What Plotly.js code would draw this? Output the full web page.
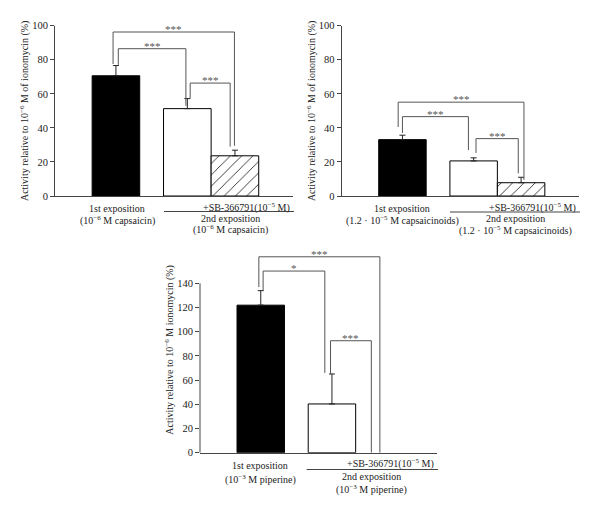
<!DOCTYPE html>
<html><head><meta charset="utf-8">
<script src="https://cdn.plot.ly/plotly-3.0.1.min.js"></script>
<style>html,body{margin:0;padding:0;background:#fff}#chart{width:600px;height:516px}</style>
</head><body><div id="chart"></div>
<script>
// ---- data ----
const groups = ['1st exposition', '2nd exposition', '2nd exposition + SB-366791'];
const capsaicinMean = [70.6, 51.3, 23.6];
const capsaicinErr = [6.0, 5.9, 3.3];
const capsaicinoidsMean = [33.1, 20.6, 7.8];
const capsaicinoidsErr = [2.6, 1.8, 3.2];
const piperineMean = [122, 40.3, 0];
const piperineErr = [12, 24.8, 0];
const capsaicinSig = ['***', '***', '***'];      // outer, 1st-2nd, 2nd-SB
const capsaicinoidsSig = ['***', '***', '***'];
const piperineSig = ['***', '*', '***'];
const yTicksTop = [0, 20, 40, 60, 80, 100];
const yTicksBottom = [0, 20, 40, 60, 80, 100, 120, 140];

// ---- layout helpers ----
const W = 600, H = 516;
const px = x => x / W, py = y => 1 - y / H;
const SERIF = 'Liberation Serif, Times New Roman, serif';
const barPos = [1.28, 2.78, 3.78];
const fills = ['#000000', '#ffffff', '#ffffff'];
const patterns = ['', '', '/'];

function barTraces(mean, err, xa, ya) {
  const out = [];
  mean.forEach((v, i) => {
    if (!v) return;               // no bar drawn for a zero value
    out.push({
      type: 'bar', x: [barPos[i]], y: [v], width: 1, xaxis: xa, yaxis: ya,
      name: groups[i], hoverinfo: 'name+y',
      marker: {color: fills[i], line: {color: '#000', width: 1},
        pattern: patterns[i] ? {shape: patterns[i], fgcolor: '#111', bgcolor: '#fff', size: 8, solidity: 0.1, fillmode: 'replace'} : undefined},
      error_y: {type: 'data', symmetric: false, array: [err[i]], arrayminus: [0],
        color: '#222', thickness: 1, width: 3},
      showlegend: false
    });
  });
  return out;
}

const data = [].concat(
  barTraces(capsaicinMean, capsaicinErr, 'x', 'y'),
  barTraces(capsaicinoidsMean, capsaicinoidsErr, 'x2', 'y2'),
  barTraces(piperineMean, piperineErr, 'x3', 'y3')
);

const shapes = [], annotations = [];
function bracket(xa, ya, x1, y1, x2, y2, top, label) {
  shapes.push({type: 'path', xref: xa, yref: ya,
    path: `M ${x1},${y1} L ${x1},${top} L ${x2},${top} L ${x2},${y2}`,
    line: {color: '#555', width: 1}});
  annotations.push({xref: xa, yref: ya, x: (x1 + x2) / 2, y: top, text: label,
    showarrow: false, yanchor: 'bottom', yshift: -5,
    font: {family: SERIF, size: 11, color: '#555'}});
}
// panel 1 brackets
bracket('x', 'y', 1.22, 77.5, 3.77, 29.5, 96.3, capsaicinSig[0]);
bracket('x', 'y', 1.33, 77, 2.75, 53, 86.5, capsaicinSig[1]);
bracket('x', 'y', 2.84, 57.5, 3.68, 29, 66.3, capsaicinSig[2]);
// panel 2 brackets
bracket('x2', 'y2', 1.19, 40.5, 3.84, 9.5, 55.1, capsaicinoidsSig[0]);
bracket('x2', 'y2', 1.28, 37, 2.67, 27, 46.6, capsaicinoidsSig[1]);
bracket('x2', 'y2', 2.83, 25.3, 3.72, 13.3, 33.7, capsaicinoidsSig[2]);
// panel 3 brackets
bracket('x3', 'y3', 1.24, 137, 3.79, 0, 162, piperineSig[0]);
bracket('x3', 'y3', 1.33, 134.5, 2.63, 66, 150.2, piperineSig[1]);
bracket('x3', 'y3', 2.75, 65, 3.61, 0, 92.6, piperineSig[2]);

// panel-3 y axis line (stops at 140)
shapes.push({type: 'line', xref: 'paper', yref: 'y3', x0: px(200), x1: px(200), y0: 0, y1: 140,
  line: {color: '#444', width: 1}});

function label(x, y, text, anchor) {
  annotations.push({xref: 'paper', yref: 'paper', x: px(x), y: py(y), text: text,
    showarrow: false, xanchor: anchor || 'center', yanchor: 'middle',
    font: {family: SERIF, size: 10, color: '#222'}});
}
function xLabels(c1, cond, right, c2, ySB, yLine, lineX0, y1, y2, y3, y4) {
  label(c1, y1, '1st exposition');
  label(c1, y2, cond);
  label(right, ySB, '+SB-366791(10<sup>−5</sup> M)', 'right');
  shapes.push({type: 'line', xref: 'paper', yref: 'paper', x0: px(lineX0), x1: px(right + 2),
    y0: py(yLine), y1: py(yLine), line: {color: '#444', width: 1}});
  label(c2, y3, '2nd exposition');
  label(c2, y4, cond);
}
xLabels(117, '(10<sup>−6</sup> M capsaicin)', 292, 230, 207, 211.5, 164, 208, 220.5, 218.5, 229.5);
xLabels(402.5, '(1.2 · 10<sup>−5</sup> M capsaicinoids)', 578, 515, 207, 212, 450, 208, 220.5, 218.5, 230.5);
xLabels(260, '(10<sup>−3</sup> M piperine)', 436, 371.7, 463.5, 469.5, 306.7, 465, 479, 476.5, 489);

function yaxis(domain, range, ticks, title, showline, anchor) {
  return {domain: domain, range: range, anchor: anchor, tickvals: ticks, ticktext: ticks.map(String),
    ticks: 'outside', ticklen: 4, tickcolor: '#444', showline: showline, linecolor: '#444', linewidth: 1,
    showgrid: false, zeroline: false, fixedrange: true,
    tickfont: {family: SERIF, size: 10.5, color: '#222'},
    title: {text: title, font: {family: SERIF, size: 10, color: '#222'}, standoff: 1}};
}
function xaxis(domain, anchor) {
  return {domain: domain, range: [0, 5], anchor: anchor, showticklabels: false, ticks: '',
    showline: true, linecolor: '#444', linewidth: 1, showgrid: false, zeroline: false, fixedrange: true};
}
const topDom = [(H - 196) / H, (H - 25.7) / H];
const botTop = 452.7 - 170 * 169.3 / 140;
const botDom = [(H - 452.7) / H, (H - botTop) / H];
const titleTop = 'Activity relative to 10<sup>−6</sup> M of ionomycin (%)';

const layout = {
  width: W, height: H, margin: {l: 0, r: 0, t: 0, b: 0},
  paper_bgcolor: '#fff', plot_bgcolor: 'rgba(0,0,0,0)', bargap: 0, barmode: 'overlay',
  xaxis: xaxis([px(55), px(293)], 'y'),
  yaxis: yaxis(topDom, [0, 100], yTicksTop, titleTop, true, 'x'),
  xaxis2: xaxis([px(341.7), px(579)], 'y2'),
  yaxis2: yaxis(topDom, [0, 100], yTicksTop, titleTop, true, 'x2'),
  xaxis3: xaxis([px(200), px(437.3)], 'y3'),
  yaxis3: yaxis(botDom, [0, 170], yTicksBottom, 'Activity relative to 10<sup>−6</sup> M ionomycin (%)', false, 'x3'),
  shapes: shapes, annotations: annotations
};
Plotly.newPlot('chart', data, layout, {displayModeBar: false, staticPlot: true});
</script>
</body></html>
